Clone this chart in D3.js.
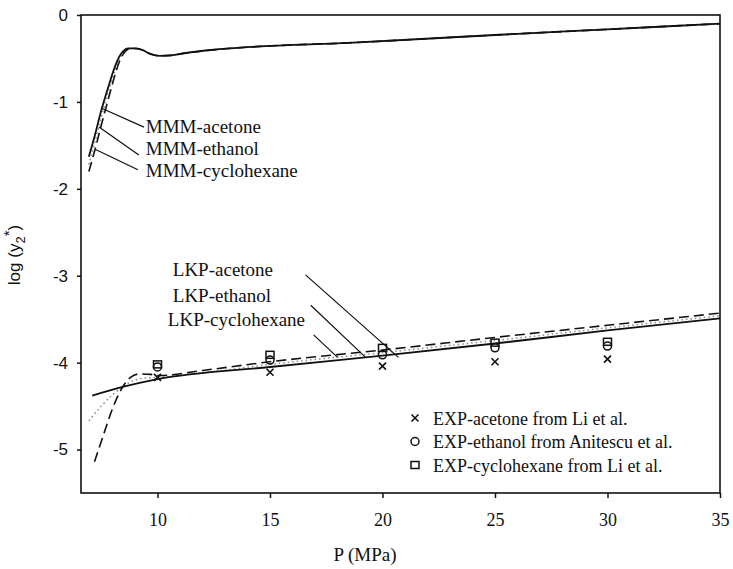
<!DOCTYPE html>
<html>
<head>
<meta charset="utf-8">
<script src="https://cdn.jsdelivr.net/npm/d3@7"></script>
<style>
  body { margin: 0; background: #fff; }
  svg { display: block; }
</style>
</head>
<body>
<div id="chart"></div>
<script>
// MMM model curves (log y2* vs P in MPa)
const mmmP = [6.95, 7.2, 7.5, 7.8, 8.1, 8.3, 8.5, 8.7, 9.0, 9.3, 9.7, 10.1, 10.6, 11.2, 12.5, 14, 18.5, 25, 30, 35];
const mmmAcetone = [-1.63, -1.40, -1.10, -0.84, -0.60, -0.48, -0.41, -0.385, -0.385, -0.40, -0.45, -0.47, -0.465, -0.44, -0.40, -0.37, -0.32, -0.23, -0.165, -0.10];
const mmmEthanol = [-1.72, -1.48, -1.18, -0.90, -0.65, -0.51, -0.425, -0.39, -0.385, -0.40, -0.45, -0.47, -0.465, -0.44, -0.40, -0.37, -0.32, -0.23, -0.165, -0.10];
const mmmCyclohexane = [-1.80, -1.57, -1.27, -0.98, -0.70, -0.54, -0.44, -0.395, -0.385, -0.40, -0.45, -0.47, -0.465, -0.44, -0.40, -0.37, -0.32, -0.23, -0.165, -0.10];

// LKP model curves
const lkpAcetoneP = [7.1, 8.45, 10, 15, 20, 25, 30, 35];
const lkpAcetone = [-4.38, -4.28, -4.19, -4.05, -3.92, -3.78, -3.63, -3.49];
const lkpEthanolP = [6.95, 7.5, 8.0, 8.45, 8.9, 9.4, 10, 12, 15, 20, 25, 30, 35];
const lkpEthanol = [-4.67, -4.50, -4.37, -4.28, -4.21, -4.18, -4.17, -4.12, -4.02, -3.885, -3.745, -3.60, -3.46];
const lkpCyclohexaneP = [7.2, 7.6, 8.0, 8.45, 8.8, 9.2, 9.7, 10, 12, 15, 20, 25, 30, 35];
const lkpCyclohexane = [-5.14, -4.83, -4.53, -4.28, -4.17, -4.13, -4.135, -4.15, -4.09, -3.99, -3.855, -3.71, -3.57, -3.43];

// experimental points
const expP = [10, 15, 20, 25, 30];
const expAcetone = [-4.17, -4.11, -4.04, -3.99, -3.96];
const expEthanol = [-4.05, -3.97, -3.91, -3.83, -3.81];
const expCyclohexane = [-4.02, -3.91, -3.83, -3.77, -3.76];

const xTicks = [10, 15, 20, 25, 30, 35];
const yTicks = [0, -1, -2, -3, -4, -5];
const legendLabels = ['EXP-acetone from Li et al.', 'EXP-ethanol from Anitescu et al.', 'EXP-cyclohexane from Li et al.'];

const width = 733, height = 569;
const margin = { top: 15, right: 13, bottom: 76, left: 81 };
const iw = width - margin.left - margin.right;
const ih = height - margin.top - margin.bottom;
const serif = "'Liberation Serif', 'Times New Roman', serif";
const sans = "'Liberation Sans', Arial, sans-serif";

const svg = d3.select('#chart').append('svg')
    .attr('width', width)
    .attr('height', height);

const g = svg.append('g').attr('transform', `translate(${margin.left},${margin.top})`);

const x = d3.scaleLinear().domain([6.6, 35]).range([0, iw]);
const y = d3.scaleLinear().domain([-5.5, 0]).range([ih, 0]);

// frame
g.append('rect')
    .attr('width', iw).attr('height', ih)
    .attr('fill', 'none').attr('stroke', '#111').attr('stroke-width', 1.6);

const xAxis = g.append('g')
    .attr('transform', `translate(0,${ih})`)
    .call(d3.axisBottom(x).tickValues(xTicks).tickSize(5).tickPadding(15).tickFormat(d3.format('d')));
xAxis.attr('font-family', serif);
xAxis.select('.domain').remove();
xAxis.selectAll('line').attr('stroke', '#111').attr('stroke-width', 1.5);
xAxis.selectAll('text').style('font-family', serif).attr('font-size', 18).attr('fill', '#111');

const yAxis = g.append('g')
    .call(d3.axisLeft(y).tickValues(yTicks).tickSize(4).tickPadding(9).tickFormat(d => d === 0 ? '0' : String(d)));
yAxis.select('.domain').remove();
yAxis.selectAll('line').attr('stroke', '#111').attr('stroke-width', 1.5);
yAxis.selectAll('text').style('font-family', sans).attr('font-size', 17).attr('fill', '#111');

// axis titles
svg.append('text')
    .attr('x', 365).attr('y', 561)
    .attr('text-anchor', 'middle')
    .style('font-family', serif).attr('font-size', 19).attr('fill', '#111')
    .text('P (MPa)');

const yl = svg.append('text')
    .attr('transform', 'translate(20,255) rotate(-90)')
    .attr('text-anchor', 'middle')
    .style('font-family', sans).attr('font-size', 17).attr('fill', '#111');
yl.append('tspan').text('log (y');
yl.append('tspan').attr('dy', 5).attr('font-size', 13).text('2');
yl.append('tspan').attr('dy', -11).attr('font-size', 15).text('*');
yl.append('tspan').attr('dy', 6).text(')');

// curves
const line = d3.line().x(d => x(d[0])).y(d => y(d[1])).curve(d3.curveMonotoneX);
const styles = {
    solid: { stroke: '#111', width: 1.8, dash: null },
    dotted: { stroke: '#8a8a8a', width: 1.5, dash: '1.5,3' },
    dashed: { stroke: '#111', width: 1.6, dash: '10,5' }
};
function drawCurve(ps, vs, style) {
    const s = styles[style];
    g.append('path')
        .datum(ps.map((p, i) => [p, vs[i]]))
        .attr('d', line)
        .attr('fill', 'none')
        .attr('stroke', s.stroke)
        .attr('stroke-width', s.width)
        .attr('stroke-dasharray', s.dash);
}
drawCurve(mmmP, mmmEthanol, 'dotted');
drawCurve(mmmP, mmmCyclohexane, 'dashed');
drawCurve(mmmP, mmmAcetone, 'solid');
drawCurve(lkpEthanolP, lkpEthanol, 'dotted');
drawCurve(lkpCyclohexaneP, lkpCyclohexane, 'dashed');
drawCurve(lkpAcetoneP, lkpAcetone, 'solid');

// experimental markers
function drawMarker(sel, type, cx, cy) {
    if (type === 'cross') {
        sel.append('path')
            .attr('d', `M${cx - 3.5},${cy - 3.5}L${cx + 3.5},${cy + 3.5}M${cx - 3.5},${cy + 3.5}L${cx + 3.5},${cy - 3.5}`)
            .attr('stroke', '#111').attr('stroke-width', 1.6).attr('fill', 'none');
    } else if (type === 'circle') {
        sel.append('circle').attr('cx', cx).attr('cy', cy).attr('r', 4)
            .attr('stroke', '#111').attr('stroke-width', 1.5).attr('fill', 'none');
    } else {
        sel.append('rect').attr('x', cx - 4).attr('y', cy - 3.5).attr('width', 8).attr('height', 7)
            .attr('stroke', '#111').attr('stroke-width', 1.5).attr('fill', 'none');
    }
}
const expSeries = [[expAcetone, 'cross'], [expEthanol, 'circle'], [expCyclohexane, 'square']];
expSeries.forEach(([vals, type]) => {
    expP.forEach((p, i) => drawMarker(g, type, x(p), y(vals[i])));
});

// curve labels with leader lines (data units)
const mmmLabels = [
    { text: 'MMM-acetone', x: 9.48, y: -1.358, from: [7.49, -1.07], to: [9.40, -1.29] },
    { text: 'MMM-ethanol', x: 9.48, y: -1.611, from: [7.40, -1.29], to: [9.17, -1.61] },
    { text: 'MMM-cyclohexane', x: 9.48, y: -1.864, from: [7.27, -1.55], to: [9.13, -1.78] }
];
const lkpLabels = [
    { text: 'LKP-acetone', x: 10.68, y: -3.00, from: [16.58, -2.99], to: [20.71, -3.94] },
    { text: 'LKP-ethanol', x: 10.68, y: -3.30, from: [16.81, -3.34], to: [19.25, -3.94] },
    { text: 'LKP-cyclohexane', x: 10.46, y: -3.58, from: [16.94, -3.68], to: [18.00, -3.94] }
];
mmmLabels.concat(lkpLabels).forEach(l => {
    g.append('text')
        .attr('x', x(l.x)).attr('y', y(l.y))
        .style('font-family', serif).attr('font-size', 19).attr('fill', '#111')
        .text(l.text);
    g.append('line')
        .attr('x1', x(l.from[0])).attr('y1', y(l.from[1]))
        .attr('x2', x(l.to[0])).attr('y2', y(l.to[1]))
        .attr('stroke', '#111').attr('stroke-width', 1.2);
});

// legend
const legend = svg.append('g').attr('transform', 'translate(415,418)');
['cross', 'circle', 'square'].forEach((type, i) => {
    drawMarker(legend, type, 0, i * 23.5);
    legend.append('text')
        .attr('x', 18).attr('y', i * 23.5 + 6.5)
        .style('font-family', serif).attr('font-size', 18).attr('fill', '#111')
        .text(legendLabels[i]);
});
</script>
</body>
</html>
